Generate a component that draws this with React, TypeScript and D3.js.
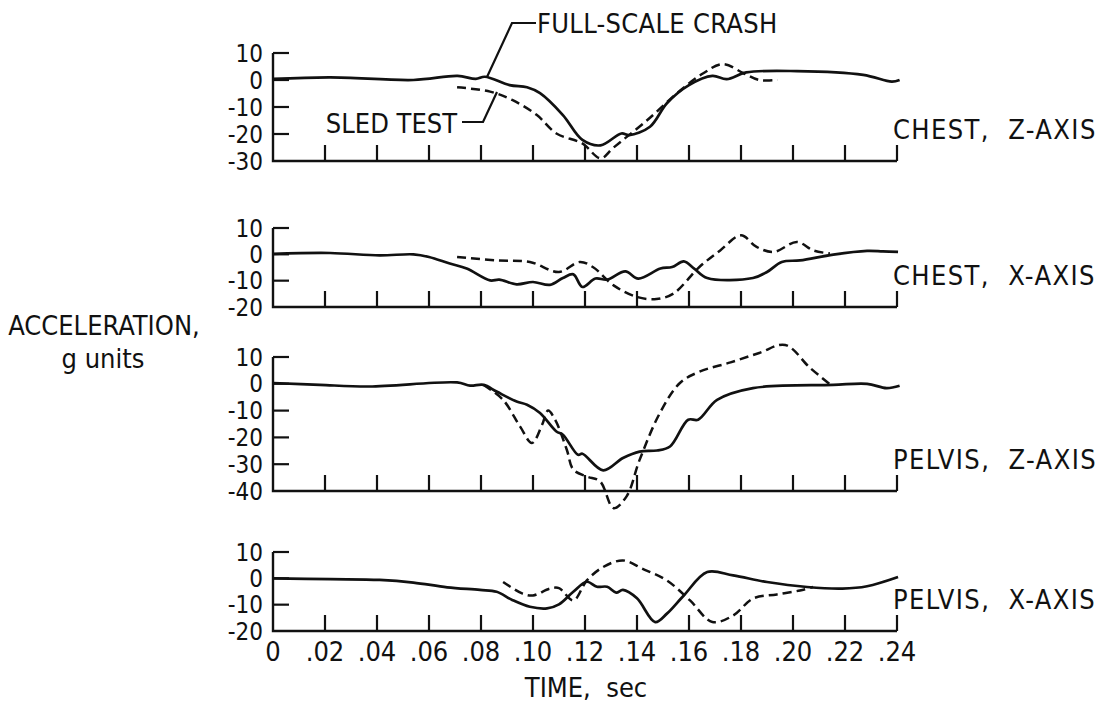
import React, { useRef, useEffect } from "react";
import * as d3 from "d3";

type Pt = [number, number]; // [time s, acceleration g]

// time axis
const timeTicks = [0, 0.02, 0.04, 0.06, 0.08, 0.1, 0.12, 0.14, 0.16, 0.18, 0.2, 0.22, 0.24];
const timeLabels = ["0", ".02", ".04", ".06", ".08", ".10", ".12", ".14", ".16", ".18", ".20", ".22", ".24"];

// panel titles and value ranges
const panelNames = ["CHEST,  Z-AXIS", "CHEST,  X-AXIS", "PELVIS,  Z-AXIS", "PELVIS,  X-AXIS"];
const panelDomains: [number, number][] = [[-30, 10], [-20, 10], [-40, 10], [-20, 10]];

// chest z
const chestZCrash: Pt[] = [
    [0, 0.4], [0.022, 1], [0.054, 0], [0.071, 1.5], [0.078, 0.4], [0.0815, 1.2], [0.091, -1.9],
    [0.0977, -2.7], [0.1027, -4.9], [0.1115, -13], [0.119, -22.2], [0.126, -24.2], [0.134, -19.8],
    [0.137, -20.4], [0.145, -17.3], [0.1515, -8.6], [0.16, -1.9], [0.169, 1.5], [0.1745, 0.3],
    [0.182, 2.8], [0.2015, 3.3], [0.227, 1.9], [0.238, -0.6], [0.241, 0]
];
const chestZSled: Pt[] = [
    [0.0708, -2.7], [0.0835, -4.3], [0.092, -7.4], [0.1015, -13], [0.109, -19.8], [0.119, -23.5],
    [0.126, -29], [0.131, -25], [0.144, -14.8], [0.1565, -4], [0.1655, 2.5], [0.173, 5.9],
    [0.181, 2.5], [0.187, 0], [0.194, 0]
];

// chest x
const chestXCrash: Pt[] = [
    [0, 0.2], [0.022, 0.5], [0.041, -0.4], [0.054, 0], [0.06, -1], [0.068, -3.5], [0.0745, -5.4],
    [0.0835, -9.9], [0.087, -9.6], [0.0937, -11.4], [0.1, -10.5], [0.1065, -11.6], [0.1115, -9],
    [0.1155, -7.6], [0.119, -12.4], [0.124, -9.2], [0.1285, -9.6], [0.1355, -6.5], [0.1405, -9.2],
    [0.149, -5.4], [0.1535, -4.8], [0.158, -2.7], [0.162, -5.4], [0.167, -9], [0.1846, -9],
    [0.19, -6.7], [0.1957, -2.9], [0.2027, -2.3], [0.2155, -0.1], [0.2285, 1.3], [0.2346, 1.1],
    [0.2404, 0.9]
];
const chestXSled: Pt[] = [
    [0.0708, -1], [0.086, -2.3], [0.0988, -2.9], [0.11, -6.7], [0.118, -2.9], [0.123, -4.8],
    [0.131, -11.8], [0.14, -16.2], [0.1475, -17], [0.154, -14.9], [0.164, -4.8], [0.172, 1.5],
    [0.18, 7.2], [0.186, 2.8], [0.1925, 0.9], [0.2015, 4.7], [0.2078, 1.5], [0.2142, 0.3]
];

// pelvis z
const pelvisZCrash: Pt[] = [
    [0, 0.3], [0.018, -0.4], [0.037, -1], [0.0708, 0.5], [0.0758, -0.7], [0.081, -0.4],
    [0.086, -2.9], [0.0937, -6.6], [0.0977, -7.8], [0.1027, -10.9], [0.109, -17.8], [0.1115, -19],
    [0.1173, -26.5], [0.119, -26.1], [0.127, -32.3], [0.1346, -27.7], [0.141, -25.3],
    [0.1477, -24.9], [0.1527, -23.4], [0.1597, -13.4], [0.1635, -13.4], [0.1708, -6],
    [0.1846, -1.6], [0.2155, -0.4], [0.2285, 0], [0.236, -1.6], [0.241, -0.7]
];
const pelvisZSled: Pt[] = [
    [0.081, -0.4], [0.0885, -6], [0.095, -15.9], [0.0996, -22.1], [0.1035, -15.3], [0.1058, -10],
    [0.1085, -13.4], [0.113, -24.6], [0.1155, -32], [0.1207, -34.6], [0.1258, -36.4],
    [0.131, -46.4], [0.136, -42], [0.141, -28.4], [0.1488, -10.9], [0.1565, 0.3], [0.164, 4.5],
    [0.176, 8], [0.187, 11.5], [0.197, 14.5], [0.2065, 6], [0.214, 0]
];

// pelvis x
const pelvisXCrash: Pt[] = [
    [0, 0], [0.022, -0.3], [0.041, -0.6], [0.054, -1.6], [0.067, -3.4], [0.0796, -4.4],
    [0.086, -5.1], [0.092, -8.2], [0.0988, -10.8], [0.1054, -11.4], [0.11, -9.9], [0.1155, -5.1],
    [0.1207, -1.3], [0.1246, -3.2], [0.1285, -3.2], [0.132, -5.4], [0.1346, -4.4], [0.14, -7.6],
    [0.147, -16.6], [0.1515, -13.4], [0.158, -6.5], [0.167, 2.4], [0.177, 1.1], [0.19, -1.4],
    [0.2054, -3.3], [0.219, -3.9], [0.2285, -3], [0.2404, 0.5]
];
const pelvisXSled: Pt[] = [
    [0.0885, -1.4], [0.096, -5.8], [0.1, -6.5], [0.1065, -3.9], [0.11, -3.7], [0.1155, -8.4],
    [0.1207, -0.8], [0.127, 4.3], [0.1346, 6.8], [0.142, 3.7], [0.1515, -0.8], [0.1604, -8.4],
    [0.169, -16.6], [0.177, -14.1], [0.1846, -7.7], [0.1938, -6.1], [0.2027, -4.6], [0.2077, -3.3]
];

const crashSeries = [chestZCrash, chestXCrash, pelvisZCrash, pelvisXCrash];
const sledSeries = [chestZSled, chestXSled, pelvisZSled, pelvisXSled];

const WIDTH = 1108;
const HEIGHT = 707;
const FONT = "'DejaVu Sans Condensed', 'Liberation Sans Narrow', sans-serif";
const INK = "#111";

const App: React.FC = () => {
    const svgRef = useRef<SVGSVGElement | null>(null);

    useEffect(() => {
        if (!svgRef.current) return;
        const svg = d3.select(svgRef.current);
        svg.selectAll("*").remove();

        const x = d3.scaleLinear().domain([0, 0.24]).range([273, 897]);
        // pixel extent of each panel (bottom of domain, top of domain)
        const panelRanges: [number, number][] = [[161, 53], [307, 228], [491, 357], [631, 552]];

        panelDomains.forEach((dom, i) => {
            const y = d3.scaleLinear().domain(dom).range(panelRanges[i]);
            const g = svg.append("g");
            const [lo, hi] = dom;
            const yb = y(lo);

            // frame: left axis + bottom axis
            g.append("path")
                .attr("d", `M${x(0)},${y(hi)}V${yb}H${x(0.24)}`)
                .attr("fill", "none")
                .attr("stroke", INK)
                .attr("stroke-width", 2.4);

            // bottom ticks (pointing up)
            g.selectAll("line.xt")
                .data(timeTicks.slice(1))
                .enter()
                .append("line")
                .attr("x1", d => x(d))
                .attr("x2", d => x(d))
                .attr("y1", yb)
                .attr("y2", yb - 16)
                .attr("stroke", INK)
                .attr("stroke-width", 2.2);

            // left ticks (pointing right) + labels
            const yTicks = d3.range(lo, hi + 1, 10);
            g.selectAll("line.yt")
                .data(yTicks.slice(1))
                .enter()
                .append("line")
                .attr("x1", x(0))
                .attr("x2", x(0) + 16)
                .attr("y1", d => y(d))
                .attr("y2", d => y(d))
                .attr("stroke", INK)
                .attr("stroke-width", 2.2);

            g.selectAll("text.yl")
                .data(yTicks)
                .enter()
                .append("text")
                .attr("x", 263)
                .attr("y", d => y(d))
                .attr("dy", "0.36em")
                .attr("text-anchor", "end")
                .attr("font-family", FONT)
                .attr("font-size", 24)
                .attr("fill", INK)
                .text(d => String(d));

            // panel name
            g.append("text")
                .attr("x", 893)
                .attr("y", yb - 22)
                .attr("font-family", FONT)
                .attr("font-size", 27)
                .attr("letter-spacing", 1.4)
                .attr("fill", INK)
                .style("white-space", "pre")
                .text(panelNames[i]);

            const line = d3.line<Pt>()
                .x(d => x(d[0]))
                .y(d => y(d[1]))
                .curve(d3.curveCatmullRom.alpha(0.5));

            g.append("path")
                .datum(crashSeries[i])
                .attr("d", line)
                .attr("fill", "none")
                .attr("stroke", INK)
                .attr("stroke-width", 2.7);

            g.append("path")
                .datum(sledSeries[i])
                .attr("d", line)
                .attr("fill", "none")
                .attr("stroke", INK)
                .attr("stroke-width", 2.5)
                .attr("stroke-dasharray", "9 5");
        });

        // time axis labels under the last panel
        svg.selectAll("text.xl")
            .data(timeTicks)
            .enter()
            .append("text")
            .attr("x", d => x(d))
            .attr("y", 661)
            .attr("text-anchor", "middle")
            .attr("font-family", FONT)
            .attr("font-size", 27)
            .attr("fill", INK)
            .text((_, i) => timeLabels[i]);

        svg.append("text")
            .attr("x", 586)
            .attr("y", 697)
            .attr("text-anchor", "middle")
            .attr("font-family", FONT)
            .attr("font-size", 27)
            .attr("fill", INK)
            .style("white-space", "pre")
            .text("TIME,  sec");

        svg.append("text")
            .attr("x", 104)
            .attr("y", 335)
            .attr("text-anchor", "middle")
            .attr("font-family", FONT)
            .attr("font-size", 27)
            .attr("fill", INK)
            .text("ACCELERATION,");

        svg.append("text")
            .attr("x", 103)
            .attr("y", 368)
            .attr("text-anchor", "middle")
            .attr("font-family", FONT)
            .attr("font-size", 27)
            .attr("fill", INK)
            .text("g units");

        // callouts
        svg.append("path")
            .attr("d", "M487,77L512,23H536")
            .attr("fill", "none")
            .attr("stroke", INK)
            .attr("stroke-width", 2.2);
        svg.append("text")
            .attr("x", 537)
            .attr("y", 33)
            .attr("font-family", FONT)
            .attr("font-size", 27)
            .attr("letter-spacing", 0.3)
            .attr("fill", INK)
            .text("FULL-SCALE CRASH");

        svg.append("path")
            .attr("d", "M462,122H483L497,92")
            .attr("fill", "none")
            .attr("stroke", INK)
            .attr("stroke-width", 2.2);
        svg.append("text")
            .attr("x", 457)
            .attr("y", 133)
            .attr("text-anchor", "end")
            .attr("font-family", FONT)
            .attr("font-size", 27)
            .attr("fill", INK)
            .text("SLED TEST");
    }, []);

    return (
        <svg
            ref={svgRef}
            width={WIDTH}
            height={HEIGHT}
            style={{ position: "absolute", left: 0, top: 0, background: "#fff" }}
        />
    );
};

export default App;
